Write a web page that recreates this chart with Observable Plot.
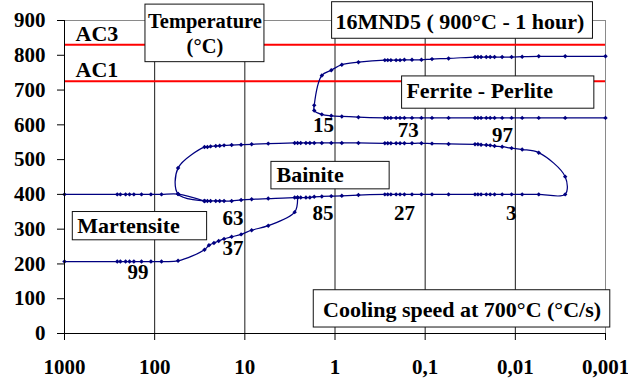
<!DOCTYPE html>
<html>
<head>
<meta charset="utf-8">
<script src="https://cdn.jsdelivr.net/npm/d3@7"></script>
<script src="https://cdn.jsdelivr.net/npm/@observablehq/plot@0.6"></script>
<style>
  html, body { margin: 0; padding: 0; background: #fff; }
</style>
</head>
<body>
<div id="chart"></div>
<script>
// Cooling speed at 700°C (°C/s), shown on a reversed log axis
const speedTicks = [1000, 100, 10, 1, 0.1, 0.01, 0.001];
const speedTickLabels = ["1000", "100", "10", "1", "0,1", "0,01", "0,001"];
const gridSpeeds = [100, 10, 1, 0.1, 0.01];
const tempTicks = [0, 100, 200, 300, 400, 500, 600, 700, 800, 900];

// Critical temperatures
const acNames = ["AC3", "AC1"];
const acTemps = [830, 725];

// Martensite start
const msSpeed = [1000, 260, 240, 210, 190, 170, 140, 110, 84, 55, 28];
const msTemp  = [400, 400, 400, 400, 400, 400, 400, 400, 400, 401, 381];

// 99 % martensite line
const mSpeed = [1000, 260, 240, 210, 190, 170, 140, 110, 84, 55, 28, 25, 22, 19.5, 17, 14, 11, 8.4, 5.5, 2.8, 2.6];
const mTemp  = [207, 207, 207, 207, 207, 207, 207, 207, 207, 209, 241, 254, 260, 266, 272, 278, 285, 297, 310, 349, 391];

// Bainite domain (bottom left→right, then top right→left and the nose)
const bainiteSpeed = [
  28, 26, 24, 21, 19, 17, 14, 11, 8.4, 5.5,
  2.8, 2.6, 2.4, 2.1, 1.9, 1.7, 1.4, 1.1, 0.84, 0.55,
  0.28, 0.26, 0.24, 0.21, 0.19, 0.17, 0.14, 0.11, 0.084, 0.055,
  0.028, 0.026, 0.024, 0.021, 0.019, 0.017, 0.014, 0.011, 0.0084, 0.0055,
  0.0028, 0.0028,
  0.0055, 0.0084, 0.011, 0.014, 0.017, 0.019, 0.021, 0.024, 0.026, 0.028,
  0.055, 0.084, 0.11, 0.14, 0.17, 0.19, 0.21, 0.24, 0.26, 0.28,
  0.55, 0.84, 1.1, 1.4, 1.7, 1.9, 2.1, 2.4, 2.6, 2.8,
  5.5, 8.4, 11, 14, 17, 19, 21, 24, 26, 28,
  55, 55, 28
];
const bainiteTemp = [
  381, 381, 381, 381, 381, 381, 381, 384, 386, 388,
  391, 391, 391, 391, 391, 393, 394, 395, 396, 398,
  400, 400, 400, 400, 400, 400, 400, 400, 400, 400,
  400, 400, 400, 400, 400, 400, 400, 400, 400, 400,
  400, 451,
  520, 529, 533, 537, 539, 541, 542, 543, 544, 544,
  545, 546, 547, 547, 547, 547, 547, 547, 547, 547,
  548, 548, 548, 548, 548, 548, 548, 548, 548, 548,
  546, 544, 543, 542, 541, 540, 539, 538, 536, 536,
  476, 401, 381
];

// Ferrite - perlite domain (top right→left, then bottom left→right)
const ferriteSpeed = [
  0.001, 0.0028, 0.0055, 0.0084, 0.011, 0.014, 0.017, 0.019, 0.021, 0.024, 0.026, 0.028,
  0.055, 0.084, 0.11, 0.14, 0.17, 0.19, 0.21, 0.24, 0.26, 0.28,
  0.55, 0.84, 1.1, 1.4, 1.7,
  1.7, 1.4, 1.1, 0.84, 0.55,
  0.28, 0.26, 0.24, 0.21, 0.19, 0.17, 0.14, 0.11, 0.084, 0.055,
  0.028, 0.026, 0.024, 0.021, 0.019, 0.017, 0.014, 0.011, 0.0084, 0.0055, 0.0028, 0.001
];
const ferriteTemp = [
  797, 797, 797, 796, 795, 795, 795, 795, 795, 795, 795, 795,
  791, 789, 787, 787, 787, 786, 786, 786, 786, 786,
  780, 773, 757, 742, 656,
  641, 630, 626, 624, 622,
  620, 620, 620, 620, 620, 620, 620, 620, 620, 620,
  620, 620, 620, 620, 620, 620, 620, 620, 620, 620, 620, 620
];

// Phase proportions (%) written next to the curves
const shareText  = ["15", "73", "97", "63", "37", "85", "27", "3", "99"];
const shareSpeed = [1.345, 0.1545, 0.0139, 13.55, 13.55, 1.36, 0.169, 0.0111, 153];
const shareTemp  = [600, 584, 570, 332, 246, 347, 347, 347, 175];

// Framed annotations: box corners and text anchor, in data units
const notes = [
  {label: "16MND5 ( 900°C - 1 hour)", x1: 1.077, x2: 0.001377, y1: 952.6, y2: 847.5, tx: 0.99, ty: 876},
  {label: "Ferrite - Perlite", x1: 0.1803, x2: 0.00133, y1: 739.2, y2: 646.4, tx: 0.1615, ty: 677},
  {label: "Bainite", x1: 5.07, x2: 0.2477, y1: 493.5, y2: 414.5, tx: 4.46, ty: 435},
  {label: "Martensite", x1: 809, x2: 26.2, y1: 349.3, y2: 268, tx: 723, ty: 289},
  {label: "Cooling speed at 700°C (°C/s)", x1: 1.72, x2: 0.000885, y1: 124.4, y2: 17.2, tx: 1.355, ty: 47.7}
];
const tempNote = {label: "Temperature\n(°C)", x1: 126.5, x2: 6.06, y1: 945.7, y2: 780.2, tx: 27.7, ty: 805.6};

function series(name, speeds, temps) {
  return speeds.map((s, i) => ({series: name, speed: s, temp: temps[i]}));
}
const curves = [
  ...series("Ms", msSpeed, msTemp),
  ...series("M99", mSpeed, mTemp),
  ...series("Bainite", bainiteSpeed, bainiteTemp),
  ...series("Ferrite", ferriteSpeed, ferriteTemp)
];
const shares = shareText.map((t, i) => ({text: t, speed: shareSpeed[i], temp: shareTemp[i]}));
const tickLabel = new Map(speedTicks.map((v, i) => [v, speedTickLabels[i]]));

const navy = "#000080";

const chart = Plot.plot({
  width: 628,
  height: 383,
  marginLeft: 64,
  marginRight: 23,
  marginTop: 20,
  marginBottom: 50,
  style: {
    fontFamily: "'Liberation Serif', 'Times New Roman', serif",
    fontWeight: "bold",
    fontSize: "21px",
    background: "white",
    color: "black",
    overflow: "visible"
  },
  x: {type: "log", domain: [1000, 0.001], label: null},
  y: {domain: [0, 900], label: null},
  marks: [
    // plot frame (top and right) and decade grid
    Plot.ruleY([900], {stroke: "#8a8a8a"}),
    Plot.ruleX([0.001], {stroke: "#8a8a8a"}),
    Plot.ruleX(gridSpeeds, {stroke: "#1a1a1a"}),
    // AC3 / AC1
    Plot.ruleY(acTemps, {stroke: "#ff0000", strokeWidth: 2}),
    Plot.text(acNames, {
      y: (d, i) => acTemps[i], text: d => d, frameAnchor: "left",
      textAnchor: "start", lineAnchor: "bottom", dx: 11, dy: -4, fontSize: 22
    }),
    // transformation curves
    Plot.line(curves, {x: "speed", y: "temp", z: "series", curve: "catmull-rom", stroke: navy, strokeWidth: 1.25}),
    Plot.dot(curves, {x: "speed", y: "temp", symbol: "diamond2", r: 2, fill: navy, stroke: "none"}),
    // phase proportions
    Plot.text(shares, {x: "speed", y: "temp", text: "text", fontSize: 21}),
    // framed annotations
    Plot.rect([...notes, tempNote], {x1: "x1", x2: "x2", y1: "y1", y2: "y2", fill: "white", stroke: "#111", strokeWidth: 1}),
    Plot.text(notes, {x: "tx", y: "ty", text: "label", textAnchor: "start", lineAnchor: "bottom", fontSize: 22}),
    Plot.text([tempNote], {x: "tx", y: "ty", text: "label", textAnchor: "middle", lineAnchor: "bottom", lineHeight: 1.23, fontSize: 20.5}),
    // axes
    Plot.ruleY([0], {stroke: "black"}),
    Plot.ruleX([1000], {stroke: "black"}),
    Plot.axisX(speedTicks, {anchor: "bottom", tickSize: 7, tickPadding: 19, tickFormat: d => tickLabel.get(d), stroke: "black"}),
    Plot.axisY(tempTicks, {anchor: "left", tickSize: 7, tickPadding: 12, stroke: "black"})
  ]
});

document.getElementById("chart").append(chart);
</script>
</body>
</html>
